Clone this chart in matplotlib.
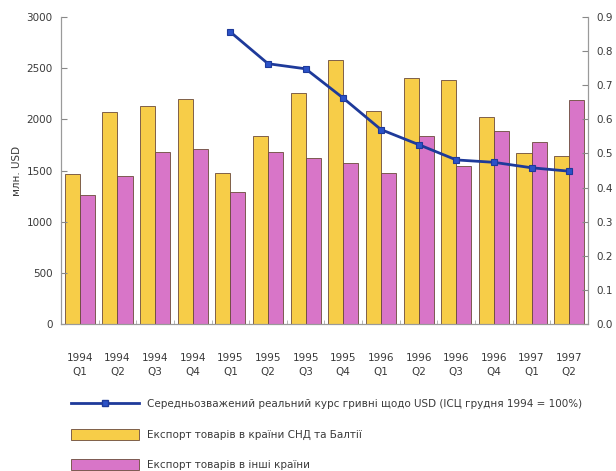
import matplotlib
matplotlib.use("Agg")
import matplotlib.pyplot as plt
import numpy as np
from matplotlib.lines import Line2D
from matplotlib.patches import Patch

quarters = ["1994\nQ1", "1994\nQ2", "1994\nQ3", "1994\nQ4",
            "1995\nQ1", "1995\nQ2", "1995\nQ3", "1995\nQ4",
            "1996\nQ1", "1996\nQ2", "1996\nQ3", "1996\nQ4",
            "1997\nQ1", "1997\nQ2"]
export_cis = [1464, 2075, 2134, 2199, 1477, 1840, 2255, 2578,
              2085, 2399, 2382, 2026, 1673, 1644]
export_other = [1258, 1448, 1676, 1706, 1291, 1680, 1618, 1578,
                1480, 1840, 1546, 1889, 1781, 2189]
rate_quarters = quarters[4:]
real_rate = [0.856, 0.763, 0.748, 0.662, 0.570, 0.526, 0.481, 0.474, 0.458, 0.448]

label_rate = "Середньозважений реальний курс гривні щодо USD (ІСЦ грудня 1994 = 100%)"
label_cis = "Експорт товарів в країни СНД та Балтії"
label_other = "Експорт товарів в інші країни"

yellow = "#F7CD48"
pink = "#D875C8"
edge = "#6B4A3A"
blue_line = "#1E3A9A"
blue_marker = "#2B52C8"
text_col = "#3a3a3a"
spine_col = "#9a9a9a"

plt.rcParams["font.family"] = ["DejaVu Sans"]

fig = plt.figure(figsize=(6.16, 4.71), dpi=100)
ax = fig.add_axes([0.099, 0.312, 0.8555, 0.652])

x = np.arange(len(quarters))
w = 0.4
ax.bar(x - w / 2, export_cis, width=w, color=yellow, edgecolor=edge, linewidth=0.6)
ax.bar(x + w / 2, export_other, width=w, color=pink, edgecolor=edge, linewidth=0.6)

ax.set_xlim(-0.5, len(quarters) - 0.5)
ax.set_ylim(0, 3000)
ax.set_yticks(np.arange(0, 3001, 500))
ax.set_xticks(x)
ax.set_xticklabels(quarters, fontsize=7.5, color=text_col, linespacing=1.45)
ax.tick_params(axis="x", length=0, pad=21)
ax.set_xticks(np.arange(-0.5, len(quarters), 1), minor=True)
ax.tick_params(axis="x", which="minor", direction="in", length=3, color="#aaaaaa")
ax.tick_params(axis="y", labelsize=7.5, labelcolor=text_col, direction="in",
               length=4, color="#888888", pad=6)
ax.set_ylabel("млн. USD", fontsize=7.5, color=text_col, labelpad=3)

ax.spines["top"].set_visible(False)
for side in ["left", "right", "bottom"]:
    ax.spines[side].set_color(spine_col)
    ax.spines[side].set_linewidth(0.8)

ax2 = ax.twinx()
ax2.set_ylim(0, 0.9)
ax2.set_yticks(np.arange(0, 0.91, 0.1))
ax2.set_yticklabels([f"{v:.1f}" for v in np.arange(0, 0.91, 0.1)])
ax2.tick_params(axis="y", labelsize=7.5, labelcolor=text_col, direction="in",
                length=4, color="#888888", pad=6)
ax2.spines["top"].set_visible(False)
for side in ["left", "right", "bottom"]:
    ax2.spines[side].set_color(spine_col)
    ax2.spines[side].set_linewidth(0.8)

xr = np.arange(len(quarters) - len(rate_quarters), len(quarters))
ax2.plot(xr, real_rate, color=blue_line, linewidth=2, marker="s", markersize=5,
         markerfacecolor=blue_marker, markeredgecolor=blue_line, markeredgewidth=0.8)

handles = [
    Line2D([0], [0], color=blue_line, linewidth=2, marker="s", markersize=5,
           markerfacecolor=blue_marker, markeredgecolor=blue_line),
    Patch(facecolor=yellow, edgecolor=edge, linewidth=0.6),
    Patch(facecolor=pink, edgecolor=edge, linewidth=0.6),
]
fig.legend(handles, [label_rate, label_cis, label_other],
           loc="upper left", bbox_to_anchor=(0.115, 0.154), frameon=False,
           borderpad=0, borderaxespad=0,
           fontsize=7.5, handlelength=6.5, handleheight=1.25, labelspacing=1.85,
           handletextpad=0.77, labelcolor=text_col)

fig.savefig("out.png", dpi=100, facecolor="white")
